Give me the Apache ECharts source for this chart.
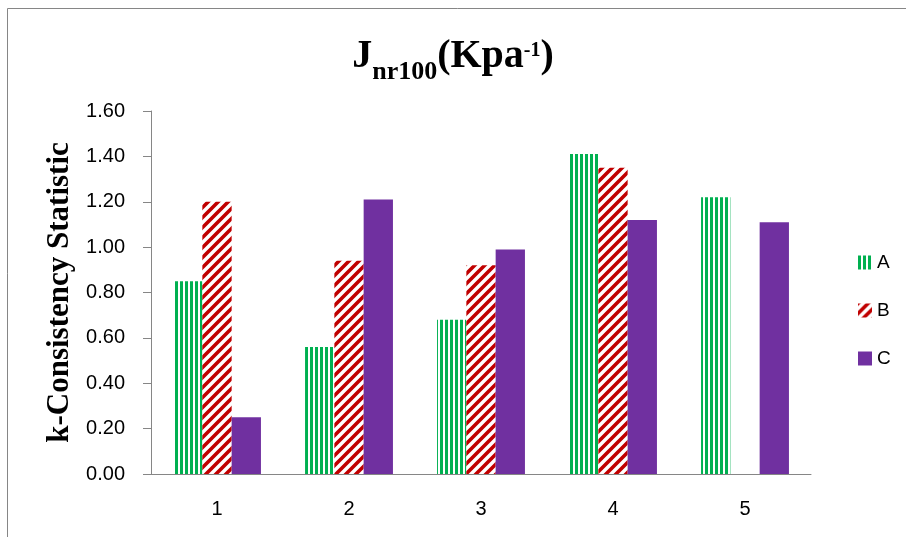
<!DOCTYPE html>
<html>
<head>
<meta charset="utf-8">
<script src="https://cdn.jsdelivr.net/npm/echarts@6/dist/echarts.min.js"></script>
<style>
  html, body { margin: 0; padding: 0; background: #fff; }
  #chart { width: 906px; height: 537px; }
</style>
</head>
<body>
<div id="chart"></div>
<script>
// Sample groups along the x axis
var categories = ['1', '2', '3', '4', '5'];
// k-consistency statistic per group
var seriesA = [0.85, 0.56, 0.68, 1.41, 1.22];
var seriesB = [1.20, 0.94, 0.92, 1.35, null];
var seriesC = [0.25, 1.21, 0.99, 1.12, 1.11];
var yTicks = { min: 0, max: 1.6, interval: 0.2 };

// Vertical green stripes
function stripePattern() {
  var c = document.createElement('canvas');
  c.width = 5; c.height = 5;
  var g = c.getContext('2d');
  g.fillStyle = '#ffffff'; g.fillRect(0, 0, 5, 5);
  g.fillStyle = '#00B050'; g.fillRect(0, 0, 3, 5);
  return c;
}
// Upward diagonal red hatch
function hatchPattern() {
  var s = 10;
  var c = document.createElement('canvas');
  c.width = s; c.height = s;
  var g = c.getContext('2d');
  g.fillStyle = '#ffffff'; g.fillRect(0, 0, s, s);
  g.strokeStyle = '#C00000'; g.lineWidth = 3.6;
  g.beginPath();
  g.moveTo(-s, s); g.lineTo(s, -s);
  g.moveTo(0, s * 2); g.lineTo(s * 2, 0);
  g.moveTo(0, s); g.lineTo(s, 0);
  g.stroke();
  return c;
}

var colorA = { image: stripePattern(), repeat: 'repeat' };
var colorB = { image: hatchPattern(), repeat: 'repeat' };
var colorC = '#7030A0';

var chart = echarts.init(document.getElementById('chart'), null, { renderer: 'canvas' });

var axisGray = '#868686';
var labelFont = 'Liberation Sans';

var barOpts = { barWidth: 29.3, barGap: '0%', barCategoryGap: '33.3%' };

chart.setOption({
  animation: false,
  backgroundColor: '#ffffff',
  title: {
    left: 'center',
    top: 29,
    padding: [0, 0, 0, 20],
    text: '{j|J}{s|nr100}{j|(Kpa}{p|-1}{j|)}',
    textStyle: {
      rich: {
        j: { fontFamily: 'Liberation Serif', fontWeight: 'bold', fontSize: 40, lineHeight: 56, color: '#000' },
        s: { fontFamily: 'Liberation Serif', fontWeight: 'bold', fontSize: 26, lineHeight: 26, verticalAlign: 'bottom', color: '#000' },
        p: { fontFamily: 'Liberation Serif', fontWeight: 'bold', fontSize: 20, lineHeight: 20, verticalAlign: 'middle', padding: [0, 0, 12, 0], color: '#000' }
      }
    }
  },
  graphic: [{
    type: 'rect',
    silent: true,
    shape: { x: 7.5, y: 8.5, width: 1000, height: 1000 },
    style: { fill: 'none', stroke: '#868686', lineWidth: 1 }
  }],
  legend: {
    orient: 'vertical',
    left: 853,
    top: 248,
    itemWidth: 14,
    itemHeight: 14,
    itemGap: 29,
    icon: 'rect',
    textStyle: { fontFamily: labelFont, fontSize: 19, color: '#000' },
    data: ['A', 'B', 'C']
  },
  grid: { left: 151, right: 95, top: 111, bottom: 63, containLabel: false },
  xAxis: {
    type: 'category',
    data: categories,
    axisLine: { show: true, lineStyle: { color: axisGray, width: 1 } },
    axisTick: { show: false },
    axisLabel: { fontFamily: labelFont, fontSize: 20, color: '#000', margin: 25 },
    splitLine: { show: false }
  },
  yAxis: {
    type: 'value',
    min: yTicks.min,
    max: yTicks.max,
    interval: yTicks.interval,
    name: 'k-Consistency Statistic',
    nameLocation: 'middle',
    nameGap: 74,
    nameTextStyle: { fontFamily: 'Liberation Serif', fontWeight: 'bold', fontSize: 31, color: '#000' },
    axisLine: { show: true, lineStyle: { color: axisGray, width: 1 } },
    axisTick: { show: true, inside: false, length: 8, lineStyle: { color: axisGray } },
    axisLabel: {
      fontFamily: labelFont, fontSize: 20, color: '#000', margin: 26,
      formatter: function (v) { return v.toFixed(2); }
    },
    splitLine: { show: false }
  },
  series: [
    Object.assign({ name: 'A', type: 'bar', data: seriesA, itemStyle: { color: colorA } }, barOpts),
    Object.assign({ name: 'B', type: 'bar', data: seriesB, itemStyle: { color: colorB } }, barOpts),
    Object.assign({ name: 'C', type: 'bar', data: seriesC, itemStyle: { color: colorC } }, barOpts)
  ]
});
</script>
</body>
</html>
